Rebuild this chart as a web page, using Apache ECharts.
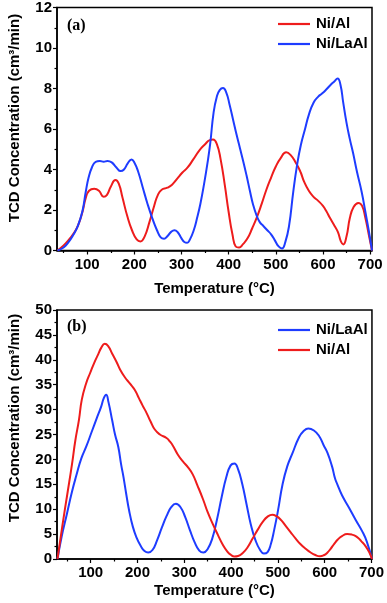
<!DOCTYPE html>
<html>
<head>
<meta charset="utf-8">
<script src="https://cdn.jsdelivr.net/npm/echarts@6/dist/echarts.min.js"></script>
<style>html,body{margin:0;padding:0;background:#fff}#c{width:387px;height:603px}</style>
</head>
<body>
<div id="c"></div>
<script>
// ---- data (a) ----
var aNiAl = [[37,0],[50,0.25],[60,0.5],[70,0.8],[80,1.2],[90,1.9],[97,2.6],[104,2.95],[115,3.05],[125,2.95],[135,2.65],[142,2.75],[150,3.15],[160,3.48],[167,3.3],[175,2.6],[185,1.7],[195,1.0],[205,0.55],[213,0.45],[222,0.7],[232,1.4],[242,2.2],[250,2.75],[258,3.0],[270,3.1],[280,3.25],[291,3.55],[302,3.85],[313,4.1],[325,4.5],[338,4.95],[350,5.25],[360,5.45],[367,5.48],[375,5.25],[383,4.5],[392,3.2],[400,1.9],[408,0.8],[415,0.2],[422,0.15],[430,0.3],[440,0.6],[450,1.1],[460,1.65],[470,2.3],[480,3.0],[490,3.6],[500,4.15],[510,4.55],[522,4.85],[532,4.7],[542,4.35],[552,3.9],[560,3.4],[570,2.95],[580,2.65],[590,2.45],[600,2.2],[607,1.95],[615,1.6],[625,1.2],[632,0.9],[638,0.45],[643,0.3],[650,0.7],[657,1.6],[665,2.15],[675,2.35],[683,2.2],[690,1.6],[697,0.8],[704,0]];
var aNiLaAl = [[37,0],[50,0.15],[60,0.4],[70,0.75],[80,1.2],[90,1.95],[97,2.9],[103,3.6],[110,4.1],[118,4.38],[127,4.42],[135,4.38],[143,4.42],[152,4.35],[162,4.1],[171,3.92],[178,4.0],[186,4.3],[194,4.5],[200,4.35],[208,3.9],[218,3.1],[228,2.3],[238,1.6],[248,1.0],[256,0.65],[263,0.58],[270,0.7],[278,0.92],[285,1.0],[292,0.9],[300,0.6],[306,0.42],[312,0.38],[318,0.55],[326,1.0],[333,1.6],[340,2.3],[348,3.3],[355,4.3],[361,5.3],[368,6.8],[375,7.6],[381,7.92],[388,8.02],[395,7.8],[402,7.2],[410,6.4],[417,5.7],[424,5.05],[431,4.4],[438,3.7],[445,2.95],[452,2.25],[459,1.75],[466,1.4],[474,1.2],[482,1.0],[490,0.8],[498,0.5],[506,0.2],[513,0.1],[520,0.4],[528,1.2],[537,2.9],[545,4.2],[553,5.2],[562,6.0],[570,6.7],[580,7.3],[590,7.6],[598,7.75],[607,7.95],[615,8.15],[624,8.35],[631,8.5],[637,8.2],[643,7.3],[650,6.3],[657,5.5],[664,4.8],[672,3.9],[682,2.9],[690,1.9],[697,1.0],[704,0]];
// ---- data (b) ----
var bNiAl = [[29,0],[40,7],[50,13],[60,19],[67,23.7],[75,28],[81,32],[90,35.2],[99,37.4],[108,39.5],[116,41.1],[123,42.5],[130,43.2],[137,42.8],[146,41.2],[155,39.6],[163,38.0],[173,36.5],[184,35.2],[194,34],[203,32.3],[211,30.8],[219,29.4],[228,27.6],[237,26.0],[248,25.0],[262,24.3],[270,23.5],[276,22.7],[286,21.0],[297,19.6],[308,18.4],[318,17.0],[328,14.8],[340,12.0],[350,9.4],[361,7.0],[372,4.8],[382,2.9],[392,1.5],[400,0.8],[407,0.5],[415,0.6],[425,1.2],[435,2.3],[446,4.1],[457,5.9],[468,7.5],[478,8.5],[488,8.9],[497,8.6],[507,7.8],[517,6.6],[527,5.4],[538,4.1],[548,3.0],[560,2.0],[570,1.3],[580,0.8],[590,0.55],[598,0.75],[606,1.3],[613,2.1],[620,3.0],[628,3.9],[637,4.6],[648,5.0],[658,4.9],[668,4.5],[678,3.6],[688,2.5],[696,1.2],[701,0]];
var bNiLaAl = [[29,0],[38,4.5],[49,9],[60,13.5],[70,17],[80,20.2],[91,22.7],[102,25.5],[113,28.3],[122,30.5],[128,32.3],[133,33.0],[138,31.5],[146,27.8],[152,25.0],[159,22.5],[165,19.0],[170,16.5],[176,13.0],[182,9.8],[190,6.5],[198,4.3],[207,2.6],[215,1.6],[223,1.3],[232,1.8],[242,3.8],[252,6.3],[262,8.6],[272,10.4],[282,11.1],[292,10.4],[302,8.4],[312,5.8],[322,3.4],[332,1.7],[341,1.3],[350,2.0],[360,4.2],[370,8.0],[380,12.5],[390,16.5],[399,18.8],[407,19.2],[415,18.0],[424,15.0],[433,11.0],[442,7.0],[452,3.8],[462,1.8],[470,1.1],[478,1.4],[485,3.0],[492,5.8],[500,9.6],[510,15.0],[520,18.6],[531,21.2],[545,24.4],[555,25.7],[565,26.2],[577,25.8],[588,24.7],[598,22.8],[606,21.3],[616,18.5],[622,16.2],[627,15.0],[637,12.8],[652,10.3],[666,7.9],[680,5.6],[690,3.5],[701,0]];
// ---- tick labels ----
var xMajor = [100,200,300,400,500,600,700];
var xMinor = [50,150,250,350,450,550,650];
var RED = '#ee1c1c', BLUE = '#1e3cff';
var FONT = '"Liberation Sans", Arial, sans-serif';

var chart = echarts.init(document.getElementById('c'), null, {renderer:'canvas'});
var lblStyle = {color:'#000', fontSize:15, fontWeight:'bold', fontFamily:FONT};
function mainX(grid, min, max, margin, gap){
  return {type:'value', gridIndex:grid, min:min, max:max, position:'bottom',
    axisLine:{show:true, onZero:false, lineStyle:{color:'#000', width:1.5}},
    axisTick:{show:true, length:4, customValues:xMajor, lineStyle:{color:'#000', width:1.2}},
    axisLabel:Object.assign({customValues:xMajor, margin:margin}, lblStyle),
    splitLine:{show:false},
    name:'Temperature (°C)', nameLocation:'middle', nameGap:gap,
    nameTextStyle:{color:'#000', fontSize:15, fontWeight:'bold', fontFamily:FONT}};
}
function minorX(grid, min, max){
  return {type:'value', gridIndex:grid, min:min, max:max, position:'bottom',
    axisLine:{show:false},
    axisTick:{show:true, length:2.5, customValues:xMinor, lineStyle:{color:'#000', width:1.2}},
    axisLabel:{show:false, customValues:xMinor}, splitLine:{show:false}};
}
function yAx(grid, max, interval){
  return {type:'value', gridIndex:grid, min:0, max:max, interval:interval,
    axisLine:{show:true, onZero:false, lineStyle:{color:'#000', width:1.5}},
    axisTick:{show:true, length:4, lineStyle:{color:'#000', width:1.2}},
    minorTick:{show:true, splitNumber:2, length:2.5, lineStyle:{color:'#000', width:1.2}},
    axisLabel:Object.assign({margin:5}, lblStyle),
    splitLine:{show:false}, minorSplitLine:{show:false}};
}
function line(name, data, color, xi, yi){
  return {type:'line', name:name, data:data, xAxisIndex:xi, yAxisIndex:yi,
    smooth:0.5, symbol:'none', lineStyle:{color:color, width:2}, itemStyle:{color:color},
    animation:false};
}
var legendText = {color:'#000', fontSize:15, fontWeight:'bold', fontFamily:FONT, padding:[0,0,0,1]};
function legend(data, top){
  return {data:data, orient:'vertical', left:273, top:top, icon:'rect', itemWidth:32, itemHeight:2.2,
    itemGap:5, textStyle:legendText, selectedMode:false};
}
var option = {
  animation:false,
  backgroundColor:'#fff',
  grid:[
    {left:57, top:6.5, width:315, height:244, show:true, borderColor:'#000', borderWidth:1.5, backgroundColor:'transparent'},
    {left:57, top:310, width:316.5, height:249, show:true, borderColor:'#000', borderWidth:1.5, backgroundColor:'transparent'}
  ],
  xAxis:[mainX(0,36,704,7,31), minorX(0,36,704), mainX(1,28,701,6,24), minorX(1,28,701)],
  yAxis:[yAx(0,12,2), yAx(1,50,5)],
  legend:[legend(['Ni/Al','Ni/LaAl'], 11.5), legend(['Ni/LaAl','Ni/Al'], 317.5)],
  graphic:[
    {type:'text', left:67, top:18, style:{text:'(a)', font:'bold 16px "Liberation Serif", "Times New Roman", serif', fill:'#000'}},
    {type:'text', left:67, top:319, style:{text:'(b)', font:'bold 16px "Liberation Serif", "Times New Roman", serif', fill:'#000'}},
    {type:'text', x:15, y:118, rotation:Math.PI/2, style:{text:'TCD Concentration (cm³/min)', font:'bold 15px "Liberation Sans", Arial, sans-serif', fill:'#000', align:'center', verticalAlign:'middle'}},
    {type:'text', x:15, y:418, rotation:Math.PI/2, style:{text:'TCD Concentration (cm³/min)', font:'bold 15px "Liberation Sans", Arial, sans-serif', fill:'#000', align:'center', verticalAlign:'middle'}}
  ],
  series:[
    line('Ni/Al', aNiAl, RED, 0, 0),
    line('Ni/LaAl', aNiLaAl, BLUE, 0, 0),
    line('Ni/LaAl', bNiLaAl, BLUE, 2, 1),
    line('Ni/Al', bNiAl, RED, 2, 1)
  ]
};
chart.setOption(option);
</script>
</body>
</html>
